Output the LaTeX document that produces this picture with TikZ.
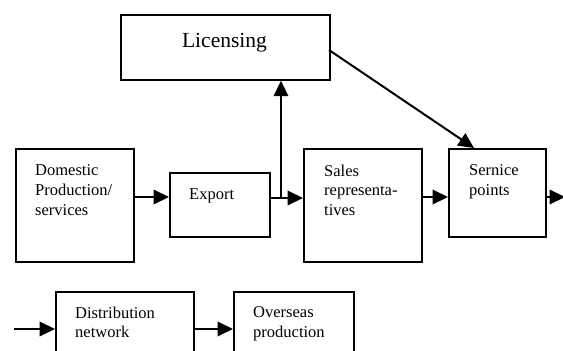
\documentclass[tikz,border=0pt]{standalone}
\usepackage{fontspec}
\setmainfont{Liberation Serif}
\usetikzlibrary{arrows.meta}
\tikzset{
  box/.style={draw, line width=1.7pt, inner sep=0pt, anchor=north west},
  lbl/.style={anchor=north west, inner sep=0pt, align=left, font=\fontsize{16.5}{19.7}\selectfont},
  arr/.style={line width=2pt, -{Triangle[length=15.5pt,width=14.5pt]}},
}
\begin{document}
\begin{tikzpicture}[x=1pt,y=-1pt]
\useasboundingbox (0,0) rectangle (563,351);
\clip (0,0) rectangle (563,351);
% boxes
\node[box, minimum width=209pt, minimum height=65pt] (lic) at (120,14) {};
\node[box, minimum width=118pt, minimum height=113pt] (dom) at (15,148) {};
\node[box, minimum width=100pt, minimum height=64pt] (exp) at (169,172) {};
\node[box, minimum width=118pt, minimum height=113pt] (sal) at (303,148) {};
\node[box, minimum width=97pt, minimum height=88pt] (ser) at (448,148) {};
\node[box, minimum width=138pt, minimum height=90pt] (dis) at (55,291) {};
\node[box, minimum width=120pt, minimum height=90pt] (ove) at (233,291) {};
% texts
\node[anchor=base, inner sep=0pt, font=\fontsize{21.5}{25}\selectfont] (licT) at (224.5,47) {Licensing};
\node[lbl] (domT) at (35,164.5) {Domestic\\Production/\\services};
\node[lbl] (expT) at (189,188) {Export};
\node[lbl] (salT) at (324,164.5) {Sales\\representa-\\tives};
\node[lbl] (serT) at (469,164.5) {Sernice\\points};
\node[lbl] (disT) at (75,306.5) {Distribution\\network};
\node[lbl] (oveT) at (253,306.5) {Overseas\\production};
% connector points
\coordinate (j) at (281,198);
\coordinate (ls) at (329,50);
\coordinate (st) at (474,148);
\coordinate (out) at (565,197);
\coordinate (in) at (14,329);
% connectors
\draw[arr] (dom.east |- 0,197) -- (exp.west |- 0,197);
\draw[line width=2pt] (exp.east |- j) -- (j);
\draw[arr] (j) -- (sal.west |- j);
\draw[arr] (j) -- (j |- lic.south);
\draw[arr] (ls) -- (st);
\draw[arr] (sal.east |- 0,197) -- (ser.west |- 0,197);
\draw[arr] (ser.east |- out) -- (out);
\draw[arr] (in) -- (dis.west |- in);
\draw[arr] (dis.east |- in) -- (ove.west |- in);
\end{tikzpicture}
\end{document}
